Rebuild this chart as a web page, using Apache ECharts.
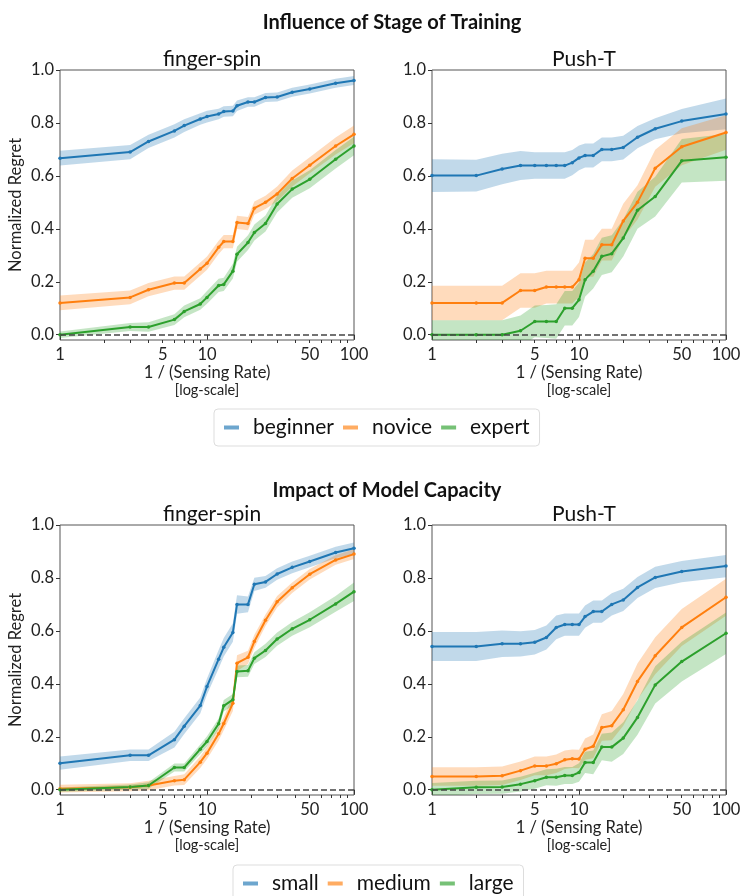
<!DOCTYPE html>
<html>
<head>
<meta charset="utf-8">
<script src="https://cdn.jsdelivr.net/npm/echarts@6/dist/echarts.min.js"></script>
<style>
	html, body { margin: 0; padding: 0; background: #fff; }
	#chart { width: 741px; height: 896px; }
</style>
</head>
<body>
<div id="chart"></div>
<script>
// x values (1 / sensing rate)
const fsX = [1, 3, 4, 6, 7, 9, 10, 12, 13, 15, 16, 19, 21, 25, 30, 38, 50, 75, 100];
const ptX = [1, 2, 3, 4, 5, 6, 7, 8, 9, 10, 11, 12.5, 14.3, 16.7, 20, 25, 33, 50, 100];

const xLabelTicks = [1, 5, 10, 50, 100];
const xMajorTicks = [1, 10, 100];
const xMinorTicks = [2, 3, 4, 5, 6, 7, 8, 9, 20, 30, 40, 50, 60, 70, 80, 90];
const yTicks = [0, 0.2, 0.4, 0.6, 0.8, 1.0];

const stageNames = ['beginner', 'novice', 'expert'];
const capacityNames = ['small', 'medium', 'large'];

// stage of training - finger-spin
const stageFsBeginner = [0.667, 0.69, 0.73, 0.77, 0.79, 0.815, 0.824, 0.834, 0.843, 0.845, 0.865, 0.879, 0.879, 0.896, 0.898, 0.916, 0.928, 0.95, 0.96];
const stageFsNovice = [0.12, 0.141, 0.17, 0.195, 0.195, 0.248, 0.27, 0.33, 0.352, 0.352, 0.424, 0.42, 0.478, 0.5, 0.532, 0.59, 0.64, 0.713, 0.757];
const stageFsExpert = [0.0, 0.029, 0.029, 0.057, 0.088, 0.116, 0.141, 0.186, 0.19, 0.24, 0.304, 0.348, 0.386, 0.42, 0.494, 0.55, 0.587, 0.663, 0.713];
const stageFsBeginnerSpread = [0.028, 0.027, 0.025, 0.025, 0.024, 0.022, 0.022, 0.02, 0.02, 0.02, 0.02, 0.018, 0.018, 0.017, 0.017, 0.017, 0.017, 0.017, 0.017];
const stageFsNoviceSpread = [0.028, 0.026, 0.025, 0.025, 0.025, 0.025, 0.025, 0.025, 0.025, 0.025, 0.025, 0.025, 0.025, 0.025, 0.028, 0.03, 0.03, 0.032, 0.033];
const stageFsExpertSpread = [0.012, 0.015, 0.018, 0.02, 0.022, 0.022, 0.024, 0.025, 0.025, 0.028, 0.028, 0.028, 0.03, 0.03, 0.032, 0.033, 0.034, 0.035, 0.035];

// stage of training - Push-T
const stagePtBeginner = [0.601, 0.601, 0.626, 0.639, 0.639, 0.639, 0.639, 0.639, 0.65, 0.668, 0.677, 0.677, 0.70, 0.70, 0.707, 0.746, 0.778, 0.807, 0.834];
const stagePtNovice = [0.12, 0.12, 0.12, 0.167, 0.167, 0.18, 0.18, 0.18, 0.18, 0.208, 0.289, 0.289, 0.34, 0.34, 0.43, 0.5, 0.629, 0.71, 0.764];
const stagePtExpert = [0, 0, 0, 0.015, 0.05, 0.05, 0.05, 0.10, 0.10, 0.132, 0.208, 0.24, 0.296, 0.306, 0.365, 0.47, 0.522, 0.657, 0.67];
const stagePtBeginnerSpread = [0.062, 0.06, 0.058, 0.055, 0.05, 0.05, 0.05, 0.05, 0.048, 0.047, 0.045, 0.045, 0.045, 0.045, 0.045, 0.042, 0.04, 0.046, 0.058];
const stagePtNoviceSpread = [0.065, 0.065, 0.065, 0.065, 0.065, 0.062, 0.062, 0.062, 0.062, 0.065, 0.07, 0.07, 0.06, 0.06, 0.065, 0.065, 0.07, 0.07, 0.065];
const stagePtExpertSpread = [0.055, 0.055, 0.055, 0.058, 0.06, 0.062, 0.065, 0.065, 0.065, 0.065, 0.065, 0.065, 0.07, 0.07, 0.07, 0.07, 0.075, 0.082, 0.088];

// model capacity - finger-spin
const capFsSmall = [0.10, 0.13, 0.13, 0.189, 0.24, 0.318, 0.39, 0.493, 0.538, 0.594, 0.70, 0.70, 0.776, 0.785, 0.815, 0.84, 0.862, 0.896, 0.912];
const capFsMedium = [0.004, 0.009, 0.016, 0.034, 0.038, 0.104, 0.138, 0.211, 0.25, 0.327, 0.478, 0.5, 0.56, 0.64, 0.71, 0.763, 0.814, 0.868, 0.89];
const capFsLarge = [0, 0.01, 0.016, 0.084, 0.084, 0.153, 0.182, 0.249, 0.317, 0.34, 0.447, 0.449, 0.497, 0.526, 0.569, 0.608, 0.642, 0.702, 0.748];
const capFsSmallSpread = [0.025, 0.022, 0.022, 0.03, 0.03, 0.03, 0.03, 0.035, 0.035, 0.035, 0.035, 0.03, 0.025, 0.022, 0.022, 0.022, 0.022, 0.022, 0.022];
const capFsMediumSpread = [0.015, 0.015, 0.018, 0.018, 0.02, 0.022, 0.022, 0.025, 0.025, 0.03, 0.03, 0.025, 0.025, 0.022, 0.022, 0.02, 0.02, 0.018, 0.018];
const capFsLargeSpread = [0.008, 0.01, 0.012, 0.015, 0.015, 0.018, 0.02, 0.02, 0.022, 0.022, 0.022, 0.022, 0.022, 0.025, 0.025, 0.026, 0.028, 0.03, 0.035];

// model capacity - Push-T
const capPtSmall = [0.541, 0.541, 0.551, 0.551, 0.557, 0.575, 0.613, 0.624, 0.624, 0.624, 0.654, 0.673, 0.673, 0.70, 0.717, 0.764, 0.802, 0.824, 0.845];
const capPtMedium = [0.05, 0.05, 0.053, 0.072, 0.09, 0.09, 0.098, 0.113, 0.117, 0.116, 0.153, 0.164, 0.235, 0.242, 0.302, 0.409, 0.506, 0.613, 0.727];
const capPtLarge = [0, 0.009, 0.01, 0.021, 0.034, 0.047, 0.047, 0.054, 0.054, 0.065, 0.103, 0.103, 0.161, 0.161, 0.195, 0.273, 0.396, 0.484, 0.591];
const capPtSmallSpread = [0.055, 0.055, 0.05, 0.048, 0.046, 0.045, 0.045, 0.042, 0.042, 0.042, 0.042, 0.042, 0.042, 0.042, 0.042, 0.04, 0.04, 0.04, 0.042];
const capPtMediumSpread = [0.035, 0.035, 0.035, 0.035, 0.035, 0.035, 0.035, 0.035, 0.035, 0.035, 0.04, 0.045, 0.05, 0.055, 0.06, 0.068, 0.07, 0.07, 0.07];
const capPtLargeSpread = [0.025, 0.025, 0.025, 0.028, 0.03, 0.03, 0.032, 0.032, 0.032, 0.035, 0.04, 0.045, 0.05, 0.055, 0.06, 0.065, 0.07, 0.075, 0.078];

const colors = ['#1f77b4', '#ff7f0e', '#2ca02c'];
const bandColors = ['rgba(31,119,180,0.28)', 'rgba(255,127,14,0.28)', 'rgba(44,160,44,0.28)'];
const legendColors = ['rgba(31,119,180,0.65)', 'rgba(255,127,14,0.65)', 'rgba(44,160,44,0.65)'];
const font = 'Lato';

const panels = [
	{ title: 'finger-spin', x: fsX, names: stageNames, means: [stageFsBeginner, stageFsNovice, stageFsExpert], spreads: [stageFsBeginnerSpread, stageFsNoviceSpread, stageFsExpertSpread], left: 60, top: 70, yName: true },
	{ title: 'Push-T', x: ptX, names: stageNames, means: [stagePtBeginner, stagePtNovice, stagePtExpert], spreads: [stagePtBeginnerSpread, stagePtNoviceSpread, stagePtExpertSpread], left: 432, top: 70, yName: false },
	{ title: 'finger-spin', x: fsX, names: capacityNames, means: [capFsSmall, capFsMedium, capFsLarge], spreads: [capFsSmallSpread, capFsMediumSpread, capFsLargeSpread], left: 60, top: 525, yName: true },
	{ title: 'Push-T', x: ptX, names: capacityNames, means: [capPtSmall, capPtMedium, capPtLarge], spreads: [capPtSmallSpread, capPtMediumSpread, capPtLargeSpread], left: 432, top: 525, yName: false }
];

const gridW = 294;
const gridH = 270;

const grids = [];
const xAxes = [];
const yAxes = [];
const series = [];
const titles = [
	{ text: 'Influence of Stage of Training', left: 387, top: 8, textAlign: 'center', textStyle: { fontFamily: font, fontSize: 20, fontWeight: 'bold', color: '#111' } },
	{ text: 'Impact of Model Capacity', left: 382, top: 476, textAlign: 'center', textStyle: { fontFamily: font, fontSize: 20, fontWeight: 'bold', color: '#111' } }
];

// shaded band drawn as one polygon through the axis scales
const bandSeries = function(data, color, g) {
	return {
		type: 'custom', xAxisIndex: g * 2, yAxisIndex: g, silent: true, z: 1,
		data: data,
		encode: { x: 0, y: [1, 2] },
		renderItem: function(params, api) {
			if( params.dataIndex !== 0 ) return;
			const upper = data.map(function(row) { return api.coord([row[0], row[2]]); });
			const lower = data.map(function(row) { return api.coord([row[0], row[1]]); }).reverse();
			const cs = params.coordSys;
			return {
				type: 'polygon',
				shape: { points: upper.concat(lower) },
				style: { fill: color },
				clipPath: { type: 'rect', shape: { x: cs.x, y: cs.y, width: cs.width, height: cs.height } }
			};
		}
	};
}

panels.forEach(function(p, g) {
	grids.push({
		left: p.left, top: p.top, width: gridW, height: gridH,
		show: true, borderColor: '#555', borderWidth: 1, backgroundColor: 'transparent',
		outerBoundsMode: 'none'
	});
	titles.push({
		text: p.title, left: p.left + gridW / 2, top: p.top - 26, textAlign: 'center',
		textStyle: { fontFamily: font, fontSize: 21, fontWeight: 'normal', color: '#111' }
	});

	// main x axis: labels + major ticks
	xAxes.push({
		type: 'log', logBase: 10, min: 1, max: 100, gridIndex: g, position: 'bottom',
		axisLine: { show: false },
		splitLine: { show: false },
		axisTick: { show: true, length: 5, customValues: xMajorTicks, lineStyle: { color: '#333' } },
		axisLabel: { customValues: xLabelTicks, fontFamily: font, fontSize: 16.5, color: '#222', margin: 6, formatter: function(v) { return String(Math.round(v)); } },
		name: '{a|1 / (Sensing Rate)}\n{b|[log-scale]}',
		nameLocation: 'middle', nameGap: 22,
		nameTextStyle: {
			lineHeight: 18,
			rich: {
				a: { fontFamily: font, fontSize: 16.5, color: '#222', lineHeight: 18 },
				b: { fontFamily: font, fontSize: 14.5, color: '#222', lineHeight: 17 }
			}
		}
	});
	// minor ticks
	xAxes.push({
		type: 'log', logBase: 10, min: 1, max: 100, gridIndex: g, position: 'bottom',
		axisLine: { show: false },
		splitLine: { show: false },
		axisTick: { show: true, length: 3, customValues: xMinorTicks, lineStyle: { color: '#333' } },
		axisLabel: { show: false }
	});

	yAxes.push({
		type: 'value', min: -0.02, max: 1, gridIndex: g,
		axisLine: { show: false },
		splitLine: { show: false },
		axisTick: { show: true, length: 4, customValues: yTicks, lineStyle: { color: '#333' } },
		axisLabel: { customValues: yTicks, fontFamily: font, fontSize: 16.5, color: '#222', margin: 6, formatter: function(v) { return v.toFixed(1); } },
		name: p.yName ? 'Normalized Regret' : '',
		nameLocation: 'middle', nameGap: 36,
		nameTextStyle: { fontFamily: font, fontSize: 16.5, color: '#222' }
	});

	// bands first, then lines on top
	p.means.forEach(function(mean, k) {
		const spread = p.spreads[k];
		const rows = p.x.map(function(x, i) { return [x, mean[i] - spread[i], mean[i] + spread[i]]; });
		series.push(bandSeries(rows, bandColors[k], g));
	});
	p.means.forEach(function(mean, k) {
		const s = {
			name: p.names[k],
			type: 'line', xAxisIndex: g * 2, yAxisIndex: g,
			data: p.x.map(function(x, i) { return [x, mean[i]]; }),
			symbol: 'circle', symbolSize: 3.5, showSymbol: true,
			color: colors[k],
			lineStyle: { width: 2, color: colors[k] },
			itemStyle: { color: colors[k] },
			z: 3
		};
		if( k === 0 ) {
			s.markLine = {
				silent: true, symbol: ['none', 'none'],
				label: { show: false },
				lineStyle: { type: [6, 3], color: '#444', width: 1.5 },
				data: [{ yAxis: 0 }]
			};
		}
		series.push(s);
	});
});

const legendBase = {
	orient: 'horizontal',
	icon: 'rect', itemWidth: 15, itemHeight: 4, itemGap: 9,
	borderColor: '#ddd', borderWidth: 1, borderRadius: 4,
	padding: [8, 10, 8, 10],
	textStyle: { fontFamily: font, fontSize: 21, color: '#111', padding: [0, 0, 0, 9] }
};

const legends = [
	Object.assign({}, legendBase, { left: 214, top: 409, data: stageNames.map(function(n, k) { return { name: n, itemStyle: { color: legendColors[k] } }; }) }),
	Object.assign({}, legendBase, { left: 233, top: 865, data: capacityNames.map(function(n, k) { return { name: n, itemStyle: { color: legendColors[k] } }; }) })
];

const chart = echarts.init(document.getElementById('chart'), null, { renderer: 'canvas' });
chart.setOption({
	backgroundColor: '#fff',
	animation: false,
	title: titles,
	legend: legends,
	grid: grids,
	xAxis: xAxes,
	yAxis: yAxes,
	series: series
});
</script>
</body>
</html>
